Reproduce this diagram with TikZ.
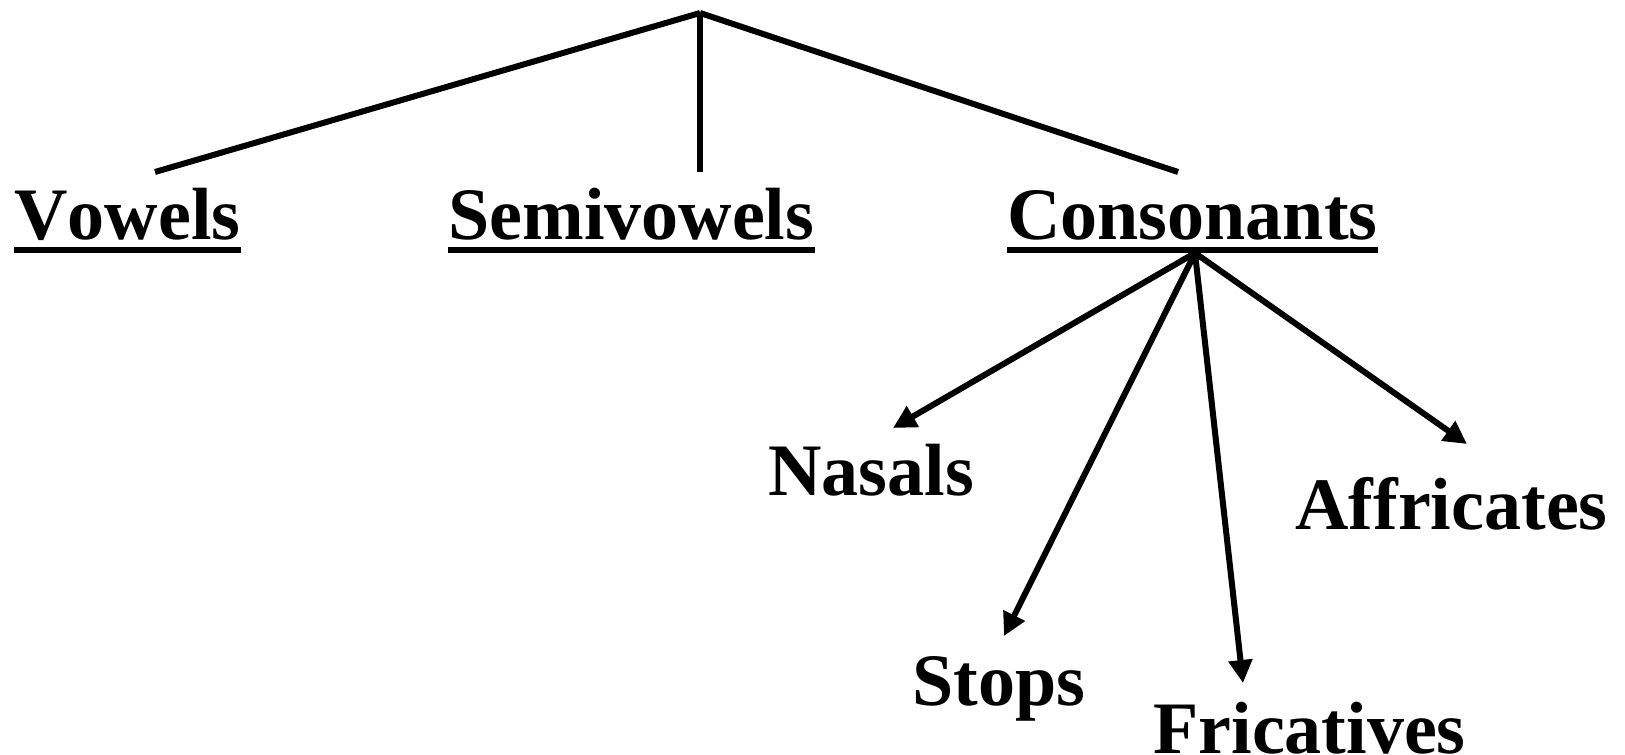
\documentclass[tikz,border=0pt]{standalone}
\usepackage{fontspec}
\setmainfont[Kerning=Off]{Liberation Serif}
\usetikzlibrary{arrows.meta}
\begin{document}
\begin{tikzpicture}[x=0.5pt,y=-0.5pt,
    word/.style={font=\fontsize{37}{44}\selectfont\bfseries, inner sep=0pt, anchor=base west},
    branch/.style={line width=3pt},
    arr/.style={line width=3pt, -{Triangle[length=11.5pt,width=11.5pt]}}]
\useasboundingbox (0,0) rectangle (1625,754);
% Sound classes
\node[word] (vowels) at (14,240) {Vowels};
\node[word] (semi) at (448,240) {Semivowels};
\node[word] (cons) at (1007,240) {Consonants};
\node[word] (nasals) at (768,495) {Nasals};
\node[word] (stops) at (912,705) {Stops};
\node[word] (fric) at (1153,753) {Fricatives};
\node[word] (affr) at (1295,529) {Affricates};
\foreach \n in {vowels,semi,cons}{
    \draw[branch] ([yshift=-5pt]\n.base west) -- ([yshift=-5pt]\n.base east);
}
\coordinate (top) at (700,13);
\coordinate (v-end) at (155,172);
\coordinate (s-end) at (700,172);
\coordinate (c-end) at (1178,172);
\foreach \e in {v-end,s-end,c-end}
    \draw[branch] (top) -- (\e);
\coordinate (croot) at (1195,253);
\coordinate (nas-tip) at (893,428);
\coordinate (stop-tip) at (1004,636);
\coordinate (fric-tip) at (1243,683);
\coordinate (affr-tip) at (1467,444);
\foreach \t in {nas-tip,stop-tip,fric-tip,affr-tip}
    \draw[arr] (croot) -- (\t);
\end{tikzpicture}
\end{document}
